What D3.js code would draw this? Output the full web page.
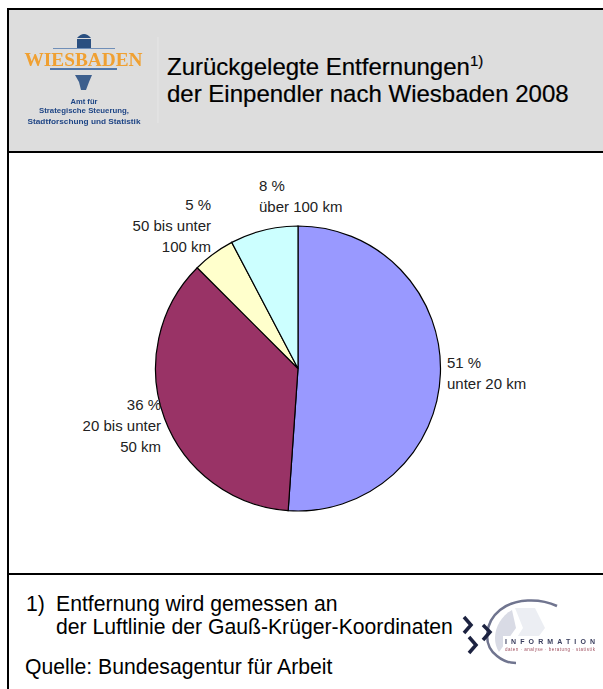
<!DOCTYPE html>
<html>
<head>
<meta charset="utf-8">
<script src="https://cdn.jsdelivr.net/npm/d3@7"></script>
<style>
    html, body { margin: 0; padding: 0; background: #fff; overflow: hidden; }
    text { font-family: "Liberation Sans", Arial, sans-serif; }
</style>
</head>
<body>
<div id="chart"></div>
<script>
let w = 603;
let h = 689;

const categories = ['unter 20 km', '20 bis unter 50 km', '50 bis unter 100 km', 'über 100 km'];
const shares = [51.1, 36.4, 4.8, 7.7];
const colors = ['#9999ff', '#993366', '#ffffcc', '#ccffff'];
const titleLines = ['Zurückgelegte Entfernungen', 'der Einpendler nach Wiesbaden 2008'];
const labelLines = [
    ['51 %', 'unter 20 km'],
    ['36 %', '20 bis unter', '50 km'],
    ['5 %', '50 bis unter', '100 km'],
    ['8 %', 'über 100 km']
];

let svg = d3.select('#chart')
    .append('svg')
    .attr('width', w)
    .attr('height', h)
    .style('display', 'block');

let soft = svg.append('defs').append('filter').attr('id', 'soft');
soft.append('feGaussianBlur').attr('stdDeviation', 0.5);

// header band and frame
svg.append('rect').attr('x', 9).attr('y', 10).attr('width', 594).attr('height', 142).attr('fill', '#dddddd');
[9, 152, 574].forEach(y => {
    svg.append('line')
        .attr('x1', 7).attr('y1', y)
        .attr('x2', w).attr('y2', y)
        .attr('stroke', '#000').attr('stroke-width', 2);
});
svg.append('line').attr('x1', 8).attr('y1', 8).attr('x2', 8).attr('y2', h).attr('stroke', '#000').attr('stroke-width', 2);

// Wiesbaden logo
let logo = svg.append('g').attr('filter', 'url(#soft)');
logo.append('rect').attr('x', 77).attr('y', 39).attr('width', 14).attr('height', 9).attr('fill', '#2a4f80');
logo.append('path').attr('d', 'M77 38 Q84 30 91 38 Z').attr('fill', '#2a4f80');
logo.append('line').attr('x1', 53).attr('x2', 115).attr('y1', 48.5).attr('y2', 48.5).attr('stroke', '#6f8fb8').attr('stroke-width', 1);
logo.append('line').attr('x1', 50).attr('x2', 117).attr('y1', 69).attr('y2', 69).attr('stroke', '#4f74a8').attr('stroke-width', 2);
logo.append('text').attr('x', 83.5).attr('y', 66).attr('text-anchor', 'middle')
    .attr('font-size', 18).attr('font-weight', 'bold').attr('fill', '#f0a030')
    .attr('textLength', 118).attr('lengthAdjust', 'spacingAndGlyphs')
    .style('font-family', '"Liberation Serif", serif').text('WIESBADEN');
logo.append('path').attr('d', 'M75 75 L92 75 L89 82 L86 90 L81 90 L79 82 Z').attr('fill', '#3d5f8d');
[['Amt für', 104, 27], ['Strategische Steuerung,', 113, 90], ['Stadtforschung und Statistik', 124, 113]].forEach(d => {
    logo.append('text').attr('x', 84).attr('y', d[1]).attr('text-anchor', 'middle')
        .attr('font-size', 8).attr('font-weight', 'bold').attr('fill', '#1f4585')
        .attr('textLength', d[2]).attr('lengthAdjust', 'spacingAndGlyphs').text(d[0]);
});
svg.append('line').attr('x1', 158).attr('x2', 158).attr('y1', 37).attr('y2', 123).attr('stroke', '#e6e6e6');

// title
let title = svg.append('text').attr('x', 167).attr('y', 75).attr('font-size', 24)
    .attr('fill', '#000').attr('stroke', '#000').attr('stroke-width', 0.2);
title.append('tspan').text(titleLines[0]);
title.append('tspan').attr('font-size', 15).attr('dy', -9).text('1)');
svg.append('text').attr('x', 167).attr('y', 101.5).attr('font-size', 24)
    .attr('fill', '#000').attr('stroke', '#000').attr('stroke-width', 0.2).text(titleLines[1]);

// pie, clockwise from 12 o'clock
let pie = d3.pie().sort(null).value(d => d)(shares);
let arc = d3.arc().innerRadius(0).outerRadius(142.5);
let pieG = svg.append('g').attr('transform', 'translate(298,368.5)');

pieG.selectAll('path')
    .data(pie)
    .enter()
    .append('path')
    .attr('d', arc)
    .attr('fill', (d, i) => colors[i])
    .attr('stroke', '#000')
    .attr('stroke-width', 1.2);

// slice labels
const labelPos = [
    {x: 447, y: 368, anchor: 'start'},
    {x: 161, y: 410, anchor: 'end'},
    {x: 211, y: 210, anchor: 'end'},
    {x: 259, y: 191, anchor: 'start'}
];
labelLines.forEach((lines, i) => {
    lines.forEach((t, j) => {
        let p = labelPos[i];
        svg.append('text')
            .attr('x', p.x)
            .attr('y', p.y + j * 21)
            .attr('text-anchor', p.anchor)
            .attr('font-size', 15)
            .attr('fill', '#222')
            .text(t);
    });
});

// footnote
svg.append('text').attr('x', 26).attr('y', 611).attr('font-size', 21.2).attr('fill', '#000').text('1)');
svg.append('text').attr('x', 56).attr('y', 611).attr('font-size', 21.2).attr('fill', '#000').text('Entfernung wird gemessen an');
svg.append('text').attr('x', 56).attr('y', 634).attr('font-size', 21.2).attr('fill', '#000').text('der Luftlinie der Gauß-Krüger-Koordinaten');
svg.append('text').attr('x', 25).attr('y', 674).attr('font-size', 21.2).attr('fill', '#000').text('Quelle: Bundesagentur für Arbeit');

// INFORMATION logo
let info = svg.append('g').attr('filter', 'url(#soft)');
info.append('path').attr('d', 'M512 610 C497 618 490 638 499 652 L516 628 Z').attr('fill', '#d9dbe5');
info.append('path').attr('d', 'M515 608 L535 608 L545 628 L530 648 L510 648 L523 628 Z').attr('fill', '#eceef3');
info.append('path').attr('d', 'M557 606 C540 598 515 598 500 610 C485 622 482 645 497 656 C503 661 510 663 516 663').attr('fill', 'none').attr('stroke', '#70748f').attr('stroke-width', 2.5);
['M464 617 L471 625 L464 633', 'M483 625 L490 632 L483 640', 'M469 637 L476 645 L469 653'].forEach(d => {
    info.append('path').attr('d', d).attr('fill', 'none').attr('stroke', '#1c2340').attr('stroke-width', 3.5);
});
info.append('rect').attr('x', 503).attr('y', 636).attr('width', 94).attr('height', 17).attr('fill', '#fff');
info.append('text').attr('x', 505).attr('y', 644).attr('font-size', 7).attr('font-weight', 'bold').attr('fill', '#3a3f5e')
    .attr('textLength', 90).text('INFORMATION');
info.append('text').attr('x', 505).attr('y', 651).attr('font-size', 4.5).attr('fill', '#a05060')
    .attr('textLength', 90).text('daten · analyse · beratung · statistik');
</script>
</body>
</html>
